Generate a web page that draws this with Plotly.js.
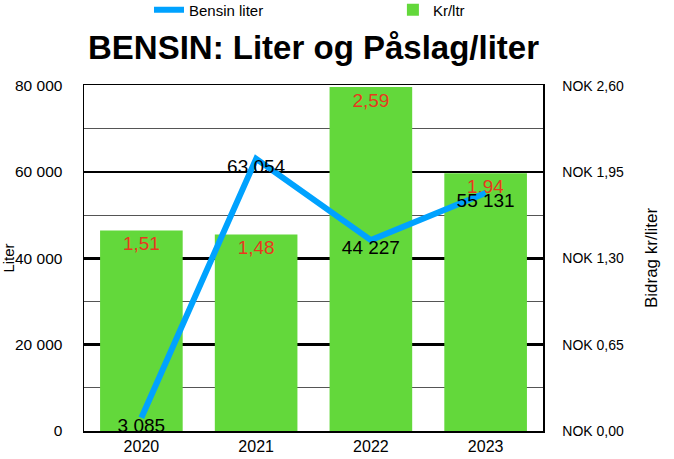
<!DOCTYPE html>
<html>
<head>
<meta charset="utf-8">
<script src="https://cdn.plot.ly/plotly-3.0.1.min.js"></script>
<style>html,body{margin:0;padding:0;background:#fff}#chart{width:674px;height:459px}</style>
</head>
<body>
<div id="chart"></div>
<script>
const years = ['2020', '2021', '2022', '2023'];
const literValues = [3085, 63054, 44227, 55131];
const krPerLiter = [1.51, 1.48, 2.59, 1.94];
const literTicks = [0, 20000, 40000, 60000, 80000];
const nokTicks = [0, 0.65, 1.30, 1.95, 2.60];
const nokTickLabels = ['NOK 0,00', 'NOK 0,65', 'NOK 1,30', 'NOK 1,95', 'NOK 2,60'];

const FONT = '"Liberation Sans", Arial, Helvetica, sans-serif';

const bars = {
  type: 'bar',
  name: 'Kr/ltr',
  x: years,
  y: krPerLiter,
  yaxis: 'y',
  legend: 'legend2',
  marker: {color: '#63d83b'},
  texttemplate: '%{y:.2f}',
  textposition: 'inside',
  insidetextanchor: 'end',
  textangle: 0,
  constraintext: 'none',
  textfont: {color: '#e8391e', size: 19, family: FONT},
  hoverinfo: 'skip'
};

const line = {
  type: 'scatter',
  mode: 'lines+text',
  name: 'Bensin liter',
  x: years,
  y: literValues,
  yaxis: 'y2',
  legend: 'legend',
  line: {color: '#00a2ff', width: 6},
  texttemplate: '%{y:,d}',
  textposition: 'bottom center',
  textfont: {color: '#000', size: 19, family: FONT},
  cliponaxis: false,
  hoverinfo: 'skip'
};

const layout = {
  width: 674,
  height: 459,
  margin: {l: 84, r: 131, t: 85, b: 28},
  paper_bgcolor: '#fff',
  plot_bgcolor: '#fff',
  separators: ', ',
  font: {family: FONT, color: '#000', size: 15},
  showlegend: true,
  title: {
    text: '<b>BENSIN: Liter og Påslag/liter</b>',
    font: {size: 33, family: FONT, color: '#000'},
    x: 0.5, xref: 'paper', xanchor: 'center',
    y: 1 - 47/459, yref: 'container', yanchor: 'middle'
  },
  legend: {
    orientation: 'h',
    x: 0.1416, xanchor: 'left',
    y: 1 - 10/459, yref: 'container', yanchor: 'middle',
    font: {size: 15, family: FONT},
    bgcolor: 'rgba(0,0,0,0)'
  },
  legend2: {
    orientation: 'h',
    x: 0.673, xanchor: 'left',
    y: 1 - 10/459, yref: 'container', yanchor: 'middle',
    font: {size: 15, family: FONT},
    bgcolor: 'rgba(0,0,0,0)'
  },
  bargap: 0.28,
  xaxis: {
    type: 'category',
    showline: true, linecolor: '#000', linewidth: 1.5, mirror: true,
    ticks: '',
    tickfont: {size: 16, family: FONT},
    showgrid: false
  },
  yaxis: {
    side: 'right',
    range: [0, 2.605],
    tickvals: nokTicks,
    ticktext: nokTickLabels,
    tickfont: {size: 14, family: FONT},
    showline: true, linecolor: '#000', linewidth: 1.5,
    showgrid: true, gridcolor: '#000', gridwidth: 2.5,
    minor: {dtick: 0.325, showgrid: true, gridcolor: '#555', gridwidth: 1, ticks: ''},
    zeroline: false,
    ticks: '',
    ticklabelstandoff: 15,
    title: {text: 'Bidrag kr/liter', font: {size: 17, family: FONT}, standoff: 22}
  },
  yaxis2: {
    overlaying: 'y',
    side: 'left',
    range: [0, 80000 * 2.605 / 2.6],
    tickvals: literTicks,
    tickformat: ',d',
    tickfont: {size: 15.5, family: FONT},
    showline: true, linecolor: '#000', linewidth: 1.5,
    showgrid: false,
    zeroline: false,
    ticks: '',
    ticklabelstandoff: 17,
    title: {text: 'Liter', font: {size: 15, family: FONT}, standoff: 33}
  }
};

Plotly.newPlot('chart', [bars, line], layout, {staticPlot: true, displayModeBar: false});
</script>
</body>
</html>
